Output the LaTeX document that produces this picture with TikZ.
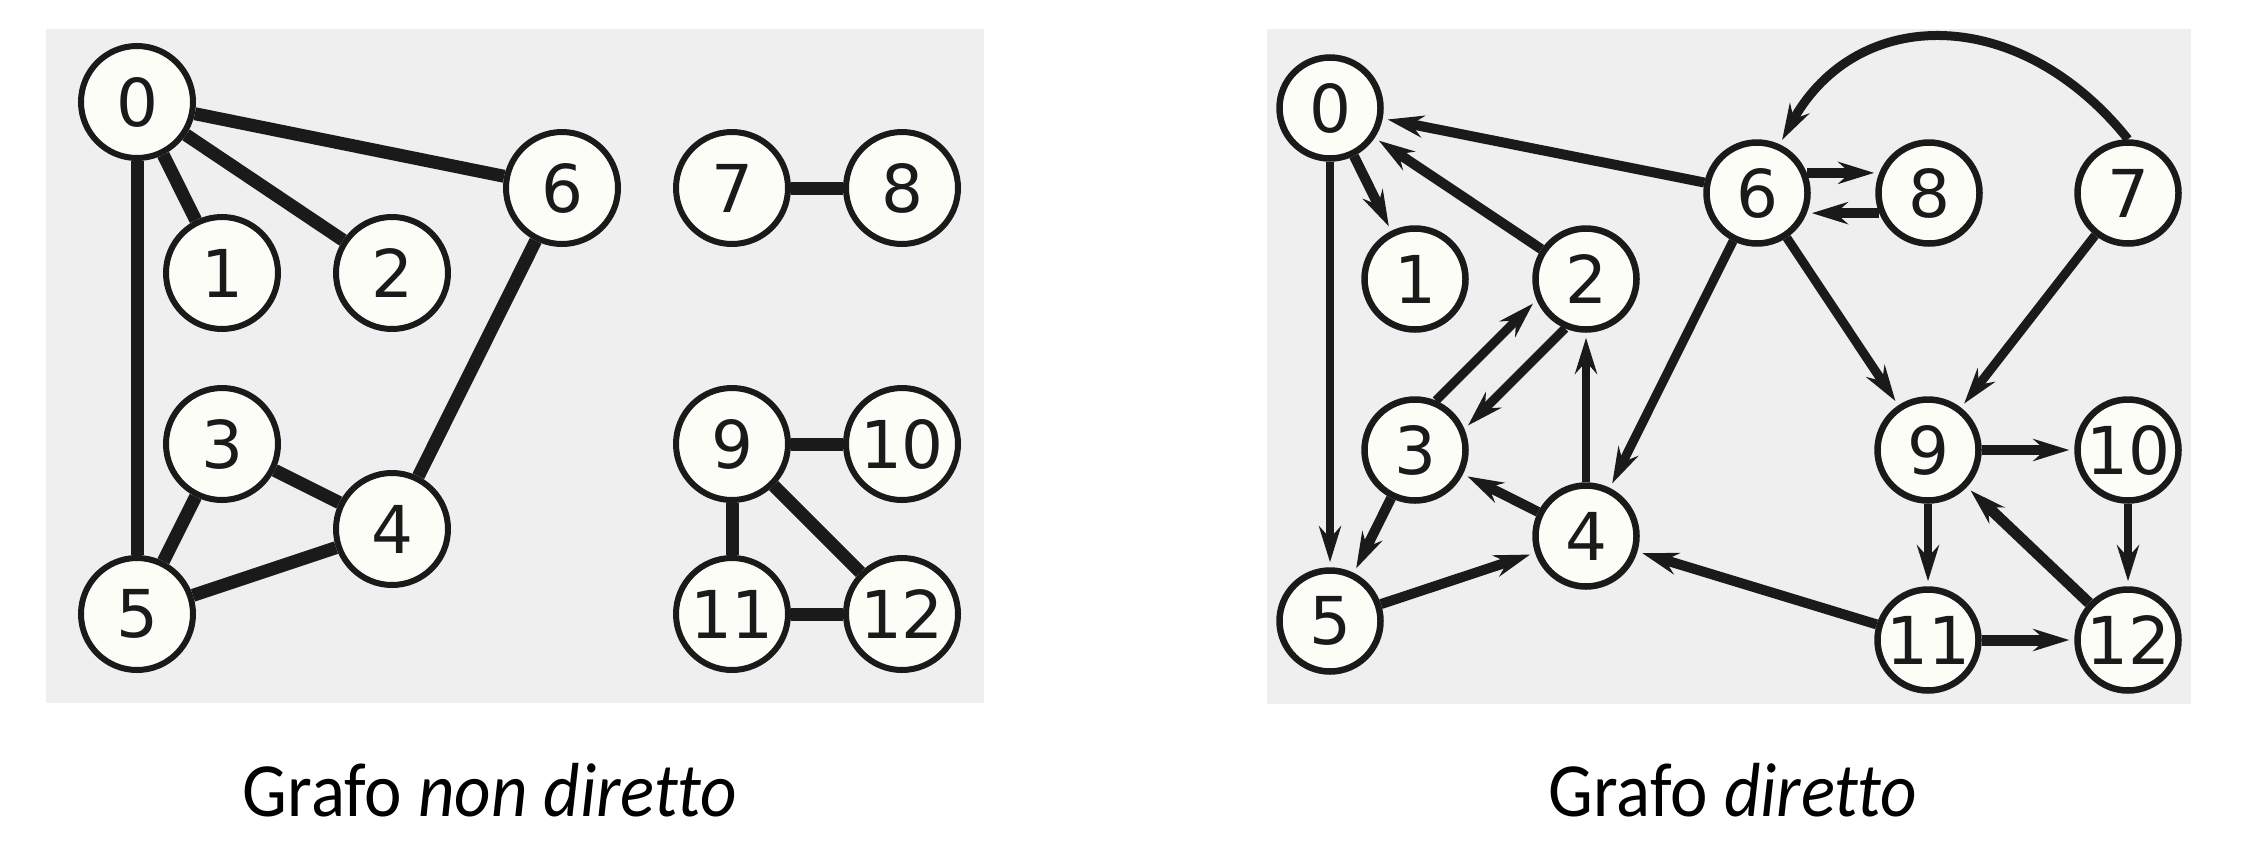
\documentclass[tikz,border=0pt]{standalone}
\usepackage{fontspec}
\setmainfont{Carlito}[Ligatures=CommonOff]
\newfontfamily\digitfont{DejaVu Sans}
\usetikzlibrary{arrows.meta,backgrounds}
\definecolor{panel}{RGB}{239,239,239}
\definecolor{ink}{RGB}{26,26,26}
\definecolor{vfill}{RGB}{252,253,246}

\begin{document}
\begin{tikzpicture}[x=1pt,y=-1pt,
  vtx/.style={circle, draw=ink, fill=vfill, inner sep=0pt, text=ink,
    font=\digitfont\fontsize{66}{66}\selectfont},
  vl/.style={vtx, minimum size=112pt, line width=6pt},
  vr/.style={vtx, minimum size=101pt, line width=6.5pt},
  uedge/.style={draw=ink, line width=13pt},
  dedge/.style={draw=ink, line width=10pt, shorten >=5pt,
    -{Stealth[length=36pt,width=22pt,inset=12pt]}},
  slim/.style={line width=8pt},
  captxt/.style={font=\fontsize{71}{71}\selectfont, anchor=base, text=black}]

\useasboundingbox (0,0) rectangle (2264,860);

% undirected graph
\node[vl] (a0)  at (137,102) {0};
\node[vl] (a1)  at (222,273) {1};
\node[vl] (a2)  at (392,273) {2};
\node[vl] (a6)  at (562,188) {6};
\node[vl] (a7)  at (732,188) {7};
\node[vl] (a8)  at (902,188) {8};
\node[vl] (a3)  at (222,444) {3};
\node[vl] (a4)  at (392,529) {4};
\node[vl] (a5)  at (137,614) {5};
\node[vl] (a9)  at (732,444) {9};
\node[vl] (a10) at (902,444) {10};
\node[vl] (a11) at (732,614) {11};
\node[vl] (a12) at (902,614) {12};

% directed graph
\node[vr] (b0)  at (1330,108) {0};
\node[vr] (b1)  at (1415,279) {1};
\node[vr] (b2)  at (1586,279) {2};
\node[vr] (b6)  at (1757,193) {6};
\node[vr] (b8)  at (1929,193) {8};
\node[vr] (b7)  at (2128,193) {7};
\node[vr] (b3)  at (1415,450) {3};
\node[vr] (b4)  at (1586,536) {4};
\node[vr] (b5)  at (1330,621) {5};
\node[vr] (b9)  at (1928,450) {9};
\node[vr] (b10) at (2128,450) {10};
\node[vr] (b11) at (1928,640) {11};
\node[vr] (b12) at (2128,640) {12};

% captions
\node[captxt] (capL) at (490,816) {\scalebox{1}[1.08]{Grafo \textit{non diretto}}};
\node[captxt] (capR) at (1733,816) {\scalebox{1}[1.08]{Grafo \textit{diretto}}};

\begin{scope}[on background layer]
  \fill[white] (0,0) rectangle (2264,860);
  \fill[panel] (46,29) rectangle (984,703);
  \fill[panel] (1267,29) rectangle (2191,704);

  % undirected edges
  \draw[uedge] (a0) -- (a1);
  \draw[uedge] (a0) -- (a2);
  \draw[uedge] (a0) -- (a6);
  \draw[uedge] (a0) -- (a5);
  \draw[uedge] (a6) -- (a4);
  \draw[uedge] (a3) -- (a4);
  \draw[uedge] (a3) -- (a5);
  \draw[uedge] (a5) -- (a4);
  \draw[uedge] (a7) -- (a8);
  \draw[uedge] (a9) -- (a10);
  \draw[uedge] (a9) -- (a11);
  \draw[uedge] (a9) -- (a12);
  \draw[uedge] (a11) -- (a12);

  % directed edges
  \draw[dedge] (b6) -- (b0);
  \draw[dedge] (b2) -- (b0);
  \draw[dedge] (b0) -- (b1);
  \draw[dedge,slim] (b0) -- (b5);
  \draw[dedge] (b6.22) -- (b8.158);
  \draw[dedge] (b8.202) -- (b6.338);
  \draw[dedge,line width=9pt] (b7.north) .. controls (2020,4) and (1857,4) .. (b6.65);
  \draw[dedge,line width=9pt] (b6) -- (b4);
  \draw[dedge,line width=9pt] (b6) -- (b9);
  \draw[dedge,line width=9pt] (b7) -- (b9);
  \draw[dedge,line width=9pt] (b3.67) -- (b2.203);
  \draw[dedge,line width=9pt] (b2.247) -- (b3.23);
  \draw[dedge,slim] (b4) -- (b2);
  \draw[dedge] (b4) -- (b3);
  \draw[dedge] (b3) -- (b5);
  \draw[dedge] (b5) -- (b4);
  \draw[dedge] (b11) -- (b4);
  \draw[dedge] (b9) -- (b10);
  \draw[dedge,slim] (b9) -- (b11);
  \draw[dedge,slim] (b10) -- (b12);
  \draw[dedge,line width=11pt] (b11) -- (b12);
  \draw[dedge,line width=11pt] (b12) -- (b9);
\end{scope}
\end{tikzpicture}
\end{document}
